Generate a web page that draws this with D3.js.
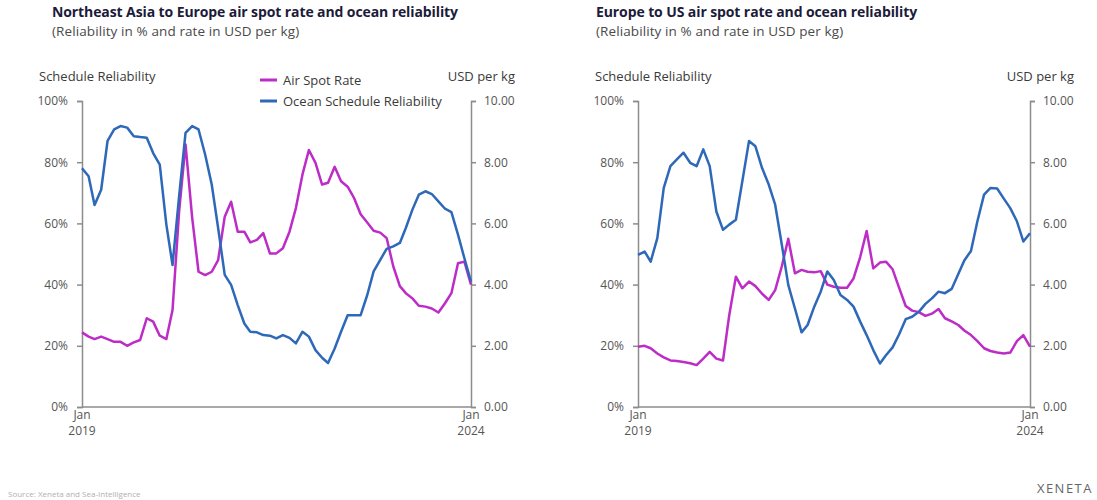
<!DOCTYPE html>
<html>
<head>
<meta charset="utf-8">
<script src="https://cdn.jsdelivr.net/npm/d3@7"></script>
<style>
  body { margin: 0; background: #fff; }
  svg { display: block; }
  text { font-family: 'Open Sans', 'Noto Sans', sans-serif; }
</style>
</head>
<body>
<svg id="chart" width="1097" height="500"></svg>
<script>
// monthly categories, Jan 2019 .. Jan 2024
const months = d3.timeMonths(new Date(2019, 0, 1), new Date(2024, 0, 2))

const pctTicks = [0, 20, 40, 60, 80, 100]
const usdTicks = [0, 2, 4, 6, 8, 10]
const xTickLabels = [['Jan', '2019'], ['Jan', '2024']]

// Northeast Asia -> Europe
const neaEuAir = [2.44, 2.30, 2.22, 2.30, 2.22, 2.13, 2.13, 2.00, 2.11, 2.19,
  2.90, 2.79, 2.33, 2.22, 3.17, 6.4, 8.58, 6.2, 4.42, 4.31,
  4.42, 4.80, 6.22, 6.71, 5.73, 5.73, 5.38, 5.46, 5.68, 5.02,
  5.02, 5.19, 5.73, 6.5, 7.6, 8.4, 7.98, 7.27, 7.33, 7.85,
  7.38, 7.20, 6.83, 6.30, 6.03, 5.76, 5.70, 5.52, 4.60, 3.95,
  3.72, 3.55, 3.31, 3.28, 3.22, 3.09, 3.39, 3.72, 4.70, 4.75, 4.0]
const neaEuOcean = [78, 75.4, 66, 71, 87, 90.7, 91.8, 91.3, 88.5, 88.2,
  88, 83, 79.2, 59.6, 46.4, 69, 89.6, 91.8, 90.7, 82.5,
  72.7, 58.5, 43.2, 39.9, 33.3, 27.3, 24.6, 24.4, 23.5, 23.3,
  22.4, 23.5, 22.6, 20.8, 24.6, 23.0, 18.6, 16.1, 14.4, 19.1,
  24.6, 30.0, 30.0, 30.0, 36.6, 44.3, 48.1, 51.7, 52.5, 53.6,
  58.5, 64.5, 69.4, 70.5, 69.6, 67.2, 64.8, 63.7, 56.3, 48.6, 41.0]

// Europe -> US
const euUsAir = [1.97, 2.00, 1.92, 1.75, 1.62, 1.52, 1.50, 1.47, 1.43, 1.37,
  1.58, 1.80, 1.58, 1.52, 3.0, 4.26, 3.88, 4.10, 3.95, 3.70,
  3.50, 3.82, 4.60, 5.50, 4.37, 4.48, 4.42, 4.40, 4.44, 4.00,
  3.93, 3.90, 3.90, 4.20, 4.90, 5.75, 4.53, 4.72, 4.75, 4.50,
  3.90, 3.30, 3.15, 3.10, 2.98, 3.05, 3.20, 2.90, 2.80, 2.68,
  2.50, 2.35, 2.15, 1.92, 1.83, 1.78, 1.75, 1.78, 2.15, 2.35, 1.97]
const euUsOcean = [49.7, 50.8, 47.5, 55.2, 71.6, 78.7, 80.9, 83.1, 79.8, 78.7,
  84.2, 78.7, 63.9, 57.9, 59.6, 61.2, 73.8, 86.9, 85.2, 78.1,
  72.7, 66.1, 53.0, 39.9, 32.2, 24.4, 26.8, 32.8, 37.7, 44.3,
  41.5, 36.6, 35.0, 32.8, 27.9, 23.5, 18.6, 14.2, 16.9, 19.5,
  23.7, 28.7, 29.5, 31.1, 33.7, 35.5, 37.7, 37.2, 38.6, 43.5,
  47.9, 51.0, 60.7, 69.4, 71.6, 71.4, 68.1, 65.0, 60.7, 54.1, 56.8]

const airColor = '#bd2cc6'
const oceanColor = '#2e68b8'
const axisColor = '#8c8c8c'

const svg = d3.select('#chart')

function drawPanel(cfg) {
  const x = d3.scaleTime().domain(d3.extent(months)).range([cfg.left, cfg.right])
  const yPct = d3.scaleLinear().domain([0, 100]).range([cfg.bottom, cfg.top])
  const yUsd = d3.scaleLinear().domain([0, 10]).range([cfg.bottom, cfg.top])

  const g = svg.append('g')

  // titles
  g.append('text')
    .attr('x', cfg.titleX).attr('y', 17)
    .attr('font-size', 14).attr('font-weight', 700).attr('fill', '#1c1b3a')
    .attr('letter-spacing', -0.1)
    .text(cfg.title)
  g.append('text')
    .attr('x', cfg.titleX).attr('y', 36)
    .attr('font-size', 13.5).attr('fill', '#4a4a4a')
    .attr('letter-spacing', 0.1)
    .text('(Reliability in % and rate in USD per kg)')

  // axis titles
  g.append('text')
    .attr('x', cfg.left - 43).attr('y', 81)
    .attr('font-size', 13).attr('fill', '#3a3a3a')
    .text('Schedule Reliability')
  g.append('text')
    .attr('x', cfg.right + 44).attr('y', 81).attr('text-anchor', 'end')
    .attr('font-size', 13).attr('fill', '#3a3a3a')
    .text('USD per kg')

  // y axes
  const leftAxis = g.append('g')
    .attr('transform', `translate(${cfg.left},0)`)
    .call(d3.axisLeft(yPct).tickValues(pctTicks).tickFormat((d) => d + '%').tickSize(5).tickPadding(9))
  const rightAxis = g.append('g')
    .attr('transform', `translate(${cfg.right},0)`)
    .call(d3.axisRight(yUsd).tickValues(usdTicks).tickFormat(d3.format('.2f')).tickSize(5).tickPadding(8))

  ;[leftAxis, rightAxis].forEach((a) => {
    a.select('.domain').attr('stroke', axisColor).attr('stroke-width', 1.5)
    a.selectAll('.tick line').attr('stroke', axisColor).attr('stroke-width', 1.5)
    a.selectAll('.tick text')
      .attr('font-family', 'Lato, sans-serif').attr('font-size', 12).attr('fill', '#555')
  })

  // x axis baseline
  g.append('line')
    .attr('x1', cfg.left).attr('x2', cfg.right)
    .attr('y1', cfg.bottom).attr('y2', cfg.bottom)
    .attr('stroke', axisColor).attr('stroke-width', 1.5)

  // x labels: month on one line, year below
  const ends = d3.extent(months)
  ends.forEach((d, i) => {
    xTickLabels[i].forEach((label, j) => {
      g.append('text')
        .attr('x', x(d)).attr('y', cfg.bottom + 12 + j * 16)
        .attr('text-anchor', 'middle').attr('font-size', 12).attr('fill', '#555')
        .attr('font-family', 'Lato, sans-serif')
        .text(label)
    })
  })

  // series lines
  const airLine = d3.line()
    .x((d, i) => x(months[i]))
    .y((d) => yUsd(d))
  const oceanLine = d3.line()
    .x((d, i) => x(months[i]))
    .y((d) => yPct(d))

  g.append('path').datum(cfg.air)
    .attr('fill', 'none').attr('stroke', airColor).attr('stroke-width', 2.5)
    .attr('stroke-linejoin', 'round')
    .attr('d', airLine)
  g.append('path').datum(cfg.ocean)
    .attr('fill', 'none').attr('stroke', oceanColor).attr('stroke-width', 2.5)
    .attr('stroke-linejoin', 'round')
    .attr('d', oceanLine)

  // legend
  if (cfg.legend) {
    const items = [['Air Spot Rate', airColor], ['Ocean Schedule Reliability', oceanColor]]
    const lg = g.append('g').attr('transform', `translate(${cfg.legend.x},${cfg.legend.y})`)
    items.forEach(([label, color], i) => {
      lg.append('line')
        .attr('x1', 0).attr('x2', 17).attr('y1', i * 21).attr('y2', i * 21)
        .attr('stroke', color).attr('stroke-width', 3)
      lg.append('text')
        .attr('x', 23).attr('y', i * 21 + 4.5)
        .attr('font-size', 13).attr('fill', '#3a3a3a')
        .text(label)
    })
  }
}

drawPanel({
  title: 'Northeast Asia to Europe air spot rate and ocean reliability',
  titleX: 52, left: 82, right: 471, top: 101, bottom: 407,
  air: neaEuAir, ocean: neaEuOcean,
  legend: { x: 260, y: 80 }
})

drawPanel({
  title: 'Europe to US air spot rate and ocean reliability',
  titleX: 596, left: 638, right: 1030, top: 101, bottom: 407,
  air: euUsAir, ocean: euUsOcean
})

// footer
svg.append('text')
  .attr('x', 8).attr('y', 497)
  .attr('font-size', 8).attr('fill', '#b0b0b0')
  .text('Source: Xeneta and Sea-Intelligence')
svg.append('text')
  .attr('x', 1093).attr('y', 493).attr('text-anchor', 'end')
  .attr('font-size', 13).attr('fill', '#666').attr('letter-spacing', 1.5)
  .text('XENETA')
</script>
</body>
</html>
